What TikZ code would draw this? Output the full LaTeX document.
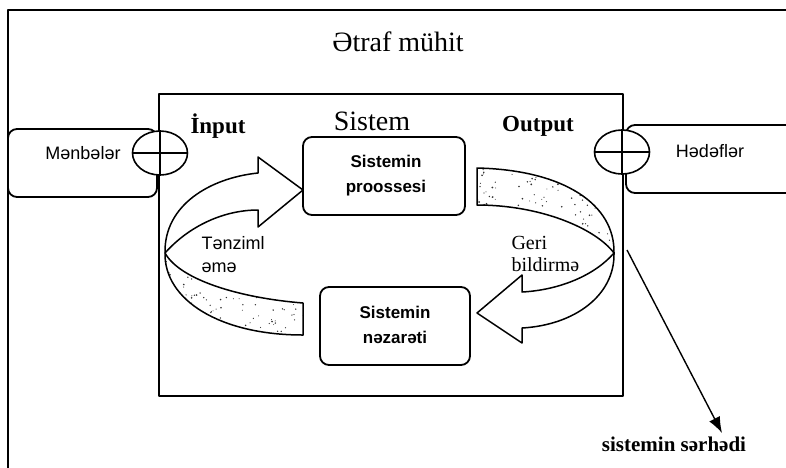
\documentclass[tikz,border=0pt]{standalone}
\usepackage{fontspec}
\setmainfont{Liberation Serif}
\setsansfont{Liberation Sans}
\usetikzlibrary{arrows.meta,shapes.geometric}

% outlines of the two twisted loop arrows
\newcommand\leftfront{(258,173) .. controls (210,178) and (164,205) .. (165,253)
  .. controls (190,225) and (225,210) .. (258,210) -- (258,227) -- (303,190) -- (258,157) -- cycle}
\newcommand\leftback{(165,253) .. controls (180,280) and (240,298) .. (303,303)
  -- (303,335) .. controls (220,335) and (164,300) .. cycle}
\newcommand\rightback{(477,168) .. controls (565,170) and (615,205) .. (614,253)
  .. controls (595,228) and (540,205) .. (477,205) -- cycle}
\newcommand\rightfront{(614,253) .. controls (615,295) and (575,325) .. (522,328)
  -- (522,343) -- (477,313) -- (522,275) -- (522,292)
  .. controls (560,290) and (595,275) .. cycle}

\begin{document}
\begin{tikzpicture}[x=1pt,y=-1pt,line join=round,
  frameline/.style={line width=1.8pt},
  boxnode/.style={draw,line width=1.8pt,rounded corners=9pt,fill=white,inner sep=0pt},
  portnode/.style={draw,ellipse,line width=1.6pt,fill=white,minimum width=55pt,minimum height=44pt,inner sep=0pt},
  loopface/.style={draw,line width=1.5pt,fill=white},
  bigserif/.style={font=\fontsize{28}{30}\selectfont},
  ioserif/.style={font=\bfseries\fontsize{23}{26}\selectfont},
  sanslabel/.style={font=\sffamily\fontsize{18}{21}\selectfont},
  boxtext/.style={font=\sffamily\bfseries\fontsize{17}{25}\selectfont,align=center},
  serlabel/.style={font=\fontsize{20}{22}\selectfont,align=left},
  stipple/.style={fill=black!80}
]
\clip (0,0) rectangle (786,467);

% environment frame
\draw[frameline] (8,470) -- (8,10) -- (790,10);
\node[bigserif] (env) at (398,42) {Ətraf mühit};

% system boundary
\draw[frameline] (159,94) rectangle (623,396);
\node[bigserif] (sys) at (372,121) {Sistem};
\node[ioserif] (inp) at (218,126) {İnput};
\node[ioserif] (outp) at (538,126) {Output};

% sources and targets
\node[boxnode,minimum width=149pt,minimum height=68pt] (src) at (82.5,163) {};
\node[sanslabel] (srctext) at (83,153) {Mənbələr};
\node[boxnode,minimum width=180pt,minimum height=68pt] (dst) at (716,159) {};
\node[sanslabel] (dsttext) at (710,151) {Hədəflər};

% input / output junctions
\node[portnode] (inport) at (160,153) {};
\draw[line width=1.6pt] (inport.west) -- (inport.east) (inport.north) -- (inport.south);
\node[portnode] (outport) at (622,152) {};
\draw[line width=1.6pt] (outport.west) -- (outport.east) (outport.north) -- (outport.south);

% inner blocks
\node[boxnode,minimum width=162pt,minimum height=78pt] (proc) at (384,176) {};
\node[boxtext] (proctext) at (386,176) {Sistemin\\proossesi};
\node[boxnode,minimum width=150pt,minimum height=78pt] (ctrl) at (395,326) {};
\node[boxtext] (ctrltext) at (395,325) {Sistemin\\nəzarəti};

% left loop arrow (regulation)
\draw[loopface] \leftfront;
\begin{scope}
  \clip \leftback;
  \fill[white] \leftback;
  \pgfmathsetseed{11}
  \foreach \i in {1,...,170}{\fill[stipple] ({163+142*rnd},{250+88*rnd}) circle ({0.45+0.5*rnd});}
\end{scope}
\draw[line width=1.5pt] \leftback;
\node[sanslabel,anchor=west] (reg1) at (198,243) {Tənziml};
\node[sanslabel,anchor=west] (reg2) at (198,268) {əmə};

% right loop arrow (feedback)
\begin{scope}
  \clip \rightback;
  \fill[white] \rightback;
  \pgfmathsetseed{5}
  \foreach \i in {1,...,190}{\fill[stipple] ({475+142*rnd},{165+90*rnd}) circle ({0.45+0.5*rnd});}
\end{scope}
\draw[line width=1.5pt] \rightback;
\draw[loopface] \rightfront;
\node[serlabel,anchor=west] (fb1) at (508,243) {Geri};
\node[serlabel,anchor=west] (fb2) at (508,265) {bildirmə};

% boundary pointer
\node[font=\bfseries\fontsize{21}{24}\selectfont] (bnd) at (674,444) {sistemin sərhədi};
\coordinate (bstart) at (627,250);
\coordinate (btip) at (722,433);
\draw[line width=1.4pt,-{Latex[length=16pt,width=12pt]}] (bstart) -- (btip);
\end{tikzpicture}
\end{document}
